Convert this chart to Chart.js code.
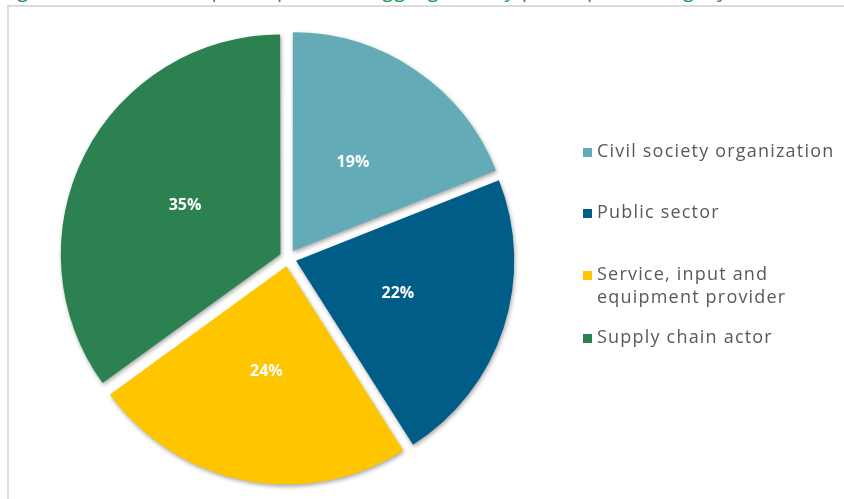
<!DOCTYPE html>
<html>
<head>
<meta charset="utf-8">
<script src="https://cdn.jsdelivr.net/npm/chart.js@4.4.0/dist/chart.umd.min.js"></script>
<style>
  html, body { margin: 0; padding: 0; background: #fff; overflow: hidden; }
  #wrap { position: relative; width: 844px; height: 499px; }
  #frame { position: absolute; left: 7px; top: 5px; right: -10px; bottom: -10px;
           border-left: 2px solid #dcdcdc; border-top: 2px solid #dcdcdc; }
  #title { position: absolute; left: 0; top: -24px; white-space: nowrap; letter-spacing: 1px;
           font-family: "Open Sans", sans-serif; font-size: 20px; color: #17954a; }
  canvas { position: absolute; left: 0; top: 0; }
</style>
</head>
<body>
<div id="wrap">
  <div id="title">Figure 3: Number of participants disaggregated by participant category</div>
  <div id="frame"></div>
  <canvas id="pieChart" width="844" height="499"></canvas>
</div>
<script>
// categorias e valores (%)
const categories = ['Civil society organization', 'Public sector', 'Service, input and equipment provider', 'Supply chain actor'];
const legendLines = [['Civil society organization'], ['Public sector'], ['Service, input and', 'equipment provider'], ['Supply chain actor']];
const shares = [19, 22, 24, 35];
const colors = ['#63abb6', '#005d87', '#ffc600', '#2c8150'];

// sombra leve por baixo das fatias
const shadowPlugin = {
    id: 'shadow',
    beforeDatasetsDraw(chart) {
        const ctx = chart.ctx;
        ctx.save();
        ctx.shadowColor = 'rgba(0,0,0,0.35)';
        ctx.shadowBlur = 4;
        ctx.shadowOffsetX = 1;
        ctx.shadowOffsetY = 2;
    },
    afterDatasetsDraw(chart) {
        chart.ctx.restore();
    }
};

// rótulos de porcentagem dentro das fatias
const pctLabels = {
    id: 'pctLabels',
    afterDatasetsDraw(chart) {
        const ctx = chart.ctx;
        const meta = chart.getDatasetMeta(0);
        ctx.save();
        ctx.fillStyle = '#ffffff';
        ctx.font = 'bold 16px "Open Sans", sans-serif';
        ctx.textAlign = 'center';
        ctx.textBaseline = 'middle';
        meta.data.forEach((arc, i) => {
            const a = (arc.startAngle + arc.endAngle) / 2;
            const r = arc.outerRadius * 0.53;
            ctx.fillText(shares[i] + '%', arc.x + Math.cos(a) * r, arc.y + Math.sin(a) * r);
        });
        ctx.restore();
    }
};

// legenda desenhada à direita
const sideLegend = {
    id: 'sideLegend',
    afterDraw(chart) {
        const ctx = chart.ctx;
        const rowY = [152, 213, 275, 338];
        ctx.save();
        ctx.font = '18px "Open Sans", sans-serif';
        ctx.letterSpacing = '1.2px';
        ctx.textBaseline = 'middle';
        legendLines.forEach((lines, i) => {
            ctx.fillStyle = colors[i];
            ctx.fillRect(583, rowY[i] - 4, 9, 9);
            ctx.fillStyle = '#595959';
            lines.forEach((t, j) => ctx.fillText(t, 597, rowY[i] + j * 23));
        });
        ctx.restore();
    }
};

const ctx = document.getElementById('pieChart').getContext('2d');
new Chart(ctx, {
    type: 'pie',
    data: {
        labels: categories,
        datasets: [{
            data: shares,
            backgroundColor: colors,
            borderWidth: 0,
            offset: 34
        }]
    },
    options: {
        responsive: false,
        animation: false,
        radius: 218,
        layout: { padding: { left: 0, right: 268, top: 17, bottom: 0 } },
        plugins: {
            legend: { display: false },
            tooltip: { enabled: false }
        }
    },
    plugins: [shadowPlugin, pctLabels, sideLegend]
});
</script>
</body>
</html>
